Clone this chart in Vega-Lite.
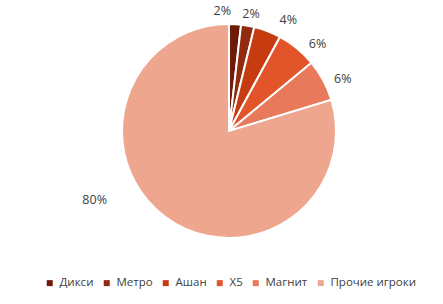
{
  "$schema": "https://vega.github.io/schema/vega-lite/v6.json",
  "width": 458,
  "height": 262,
  "padding": {"left": 0, "top": 0, "right": 0, "bottom": 42},
  "autosize": {"type": "none"},
  "background": "white",
  "data": {"values": [
    {"cat": "Дикси", "v": 0.018, "o": 1},
    {"cat": "Метро", "v": 0.020, "o": 2},
    {"cat": "Ашан", "v": 0.041, "o": 3},
    {"cat": "X5", "v": 0.061, "o": 4},
    {"cat": "Магнит", "v": 0.063, "o": 5},
    {"cat": "Прочие игроки", "v": 0.797, "o": 6}
  ]},
  "encoding": {
    "theta": {"field": "v", "type": "quantitative", "stack": true},
    "order": {"field": "o", "type": "quantitative"},
    "text": {"field": "v", "type": "quantitative", "format": ".0%"}
  },
  "layer": [
    {
      "mark": {"type": "arc", "outerRadius": 107, "stroke": "white", "strokeWidth": 2},
      "encoding": {
        "color": {
          "field": "cat", "type": "nominal",
          "scale": {
            "domain": ["Дикси", "Метро", "Ашан", "X5", "Магнит", "Прочие игроки"],
            "range": ["#6e1a08", "#922a0e", "#c63b10", "#e2552b", "#e8795a", "#eea68f"]
          },
          "legend": {
            "title": null, "orient": "none", "legendX": 44, "legendY": 277,
            "direction": "horizontal", "columns": 6,
            "symbolType": "square", "symbolSize": 36, "labelFontSize": 11.5,
            "labelFont": "Open Sans", "labelColor": "#404040", "columnPadding": 7,
            "symbolStrokeWidth": 0, "labelOffset": 4
          }
        }
      }
    },
    {
      "mark": {"type": "text", "radius": 120, "thetaOffset": -0.113, "font": "Open Sans", "fontSize": 12.5, "fill": "#404040"},
      "encoding": {"opacity": {"condition": {"test": "datum.cat === 'Дикси'", "value": 1}, "value": 0}}
    },
    {
      "mark": {"type": "text", "radius": 119, "thetaOffset": 0.01, "font": "Open Sans", "fontSize": 12.5, "fill": "#404040"},
      "encoding": {"opacity": {"condition": {"test": "datum.cat === 'Метро'", "value": 1}, "value": 0}}
    },
    {
      "mark": {"type": "text", "radius": 126, "thetaOffset": 0.122, "font": "Open Sans", "fontSize": 12.5, "fill": "#404040"},
      "encoding": {"opacity": {"condition": {"test": "datum.cat === 'Ашан'", "value": 1}, "value": 0}}
    },
    {
      "mark": {"type": "text", "radius": 124, "thetaOffset": 0.108, "font": "Open Sans", "fontSize": 12.5, "fill": "#404040"},
      "encoding": {"opacity": {"condition": {"test": "datum.cat === 'X5'", "value": 1}, "value": 0}}
    },
    {
      "mark": {"type": "text", "radius": 125, "thetaOffset": 0.066, "font": "Open Sans", "fontSize": 12.5, "fill": "#404040"},
      "encoding": {"opacity": {"condition": {"test": "datum.cat === 'Магнит'", "value": 1}, "value": 0}}
    },
    {
      "mark": {"type": "text", "radius": 151, "thetaOffset": 0.459, "font": "Open Sans", "fontSize": 12.5, "fill": "#404040"},
      "encoding": {"opacity": {"condition": {"test": "datum.cat === 'Прочие игроки'", "value": 1}, "value": 0}}
    }
  ]
}
